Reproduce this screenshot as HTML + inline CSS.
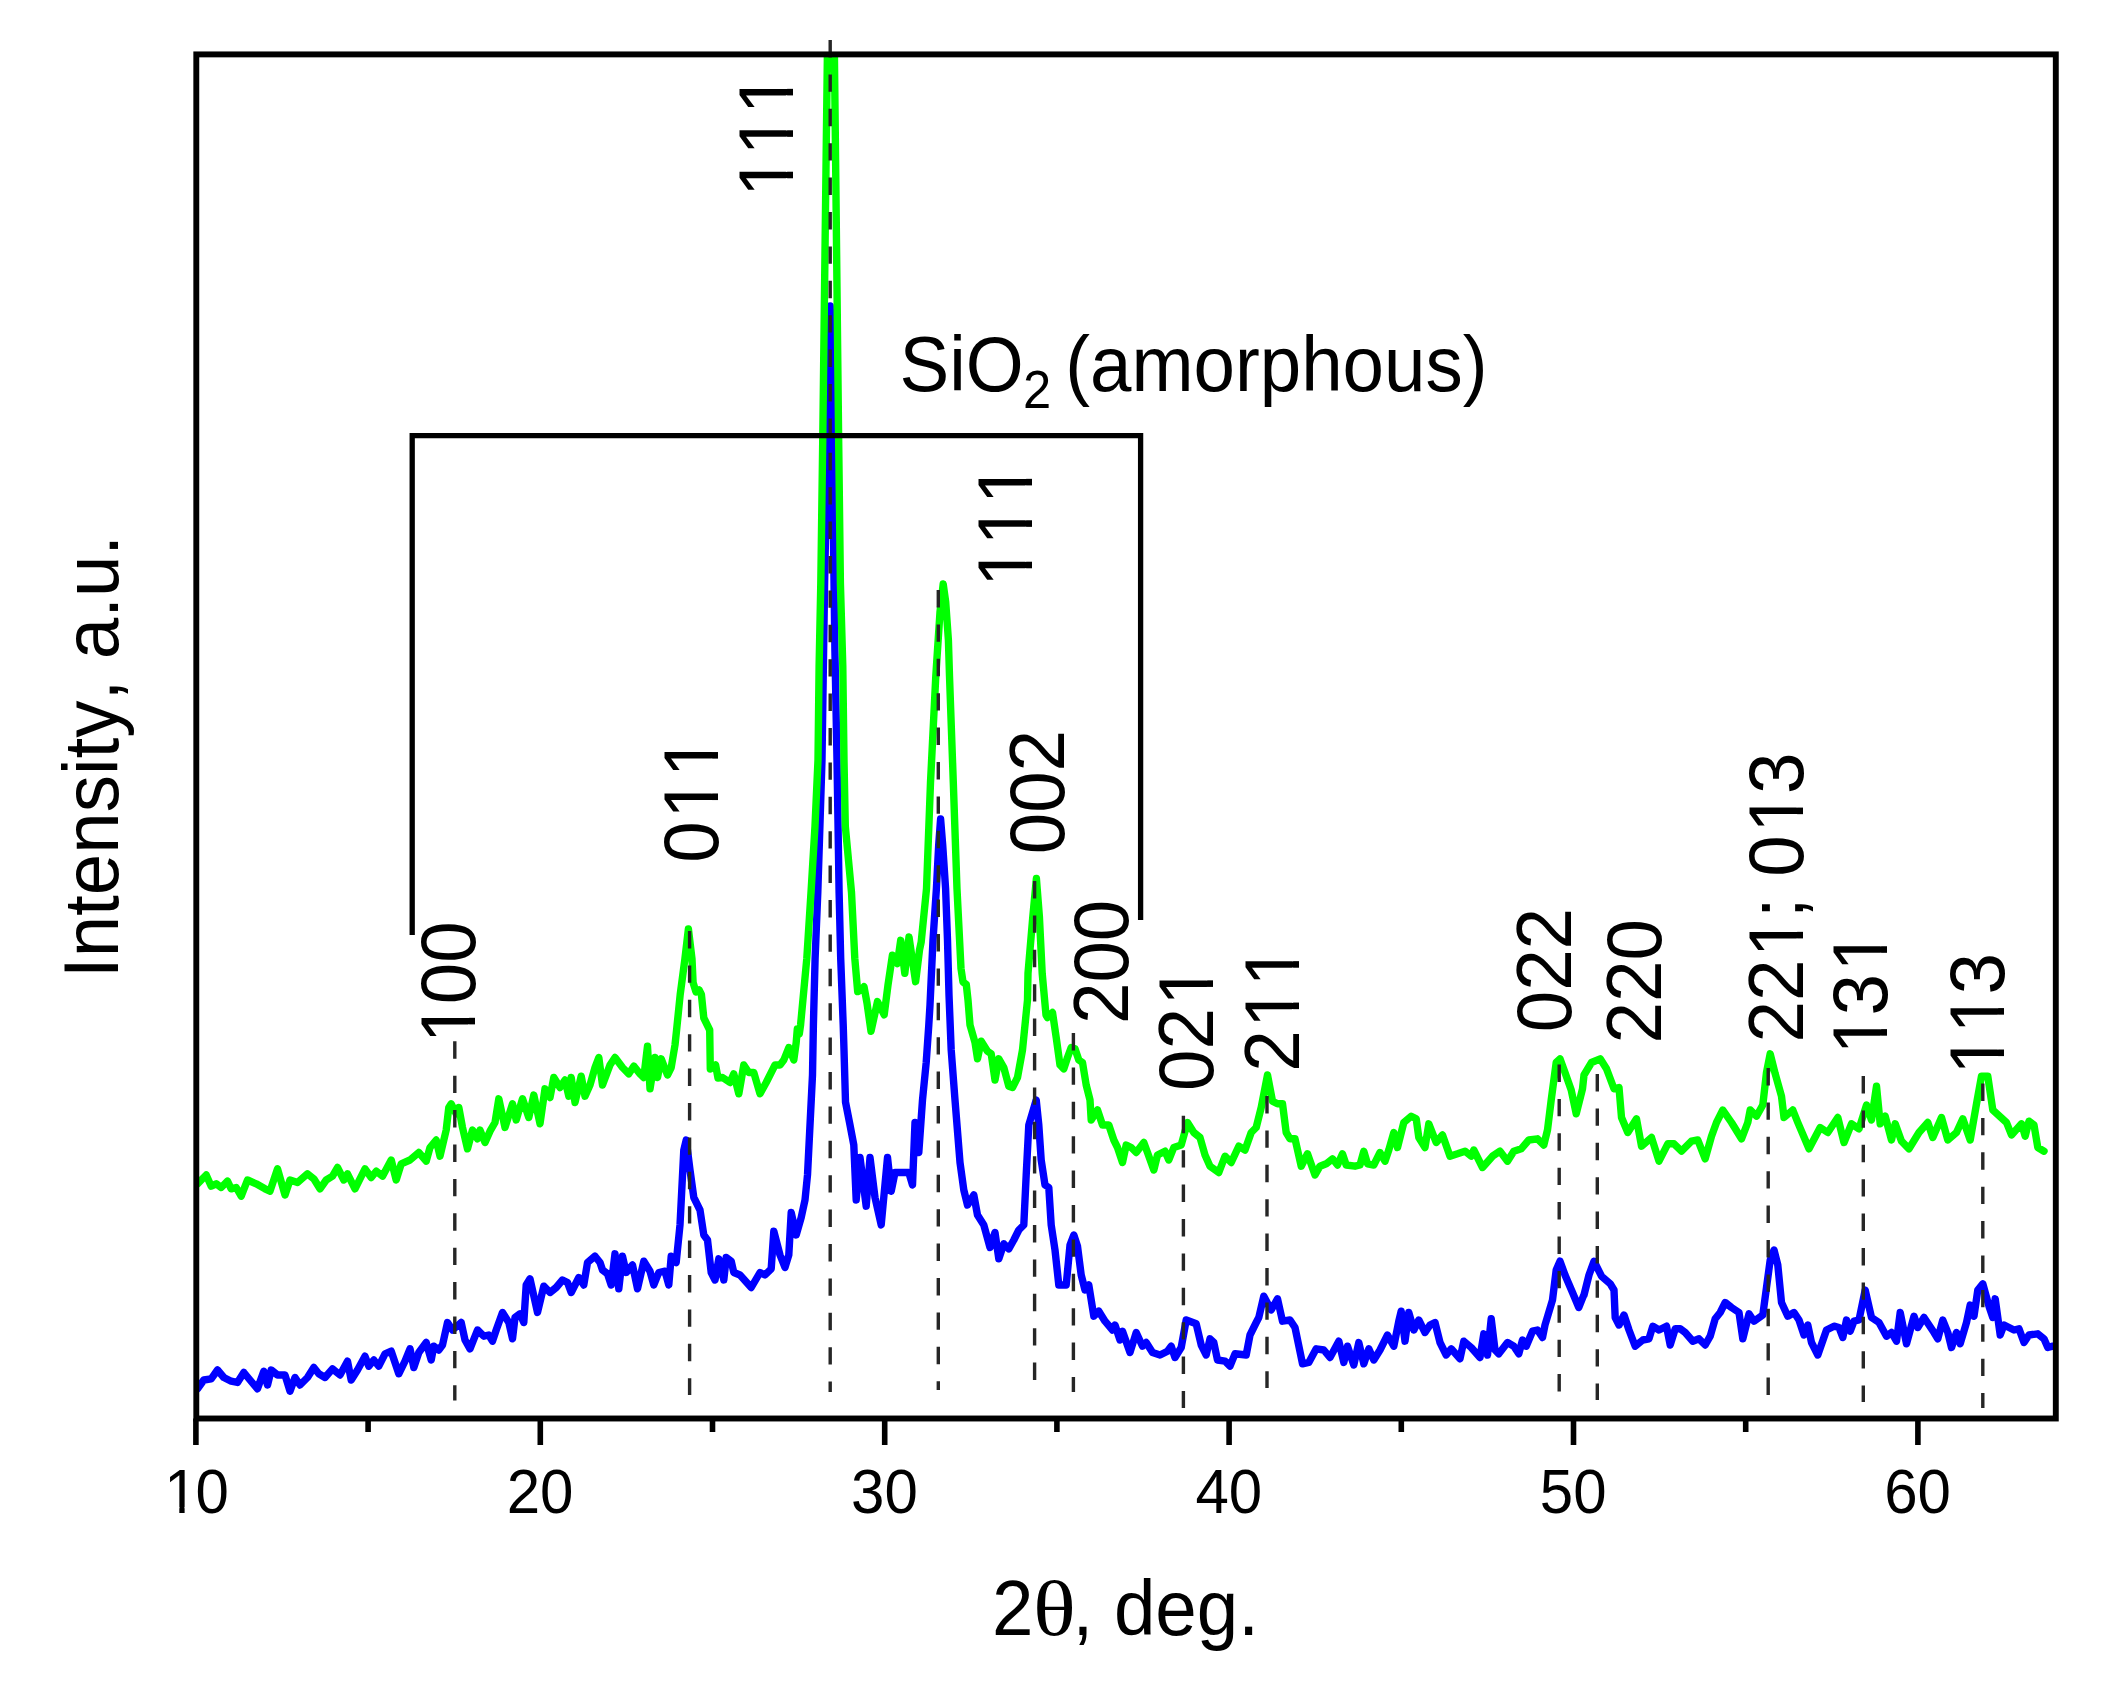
<!DOCTYPE html>
<html><head><meta charset="utf-8"><title>XRD</title>
<style>
html,body{margin:0;padding:0;background:#fff;}
body{width:2112px;height:1693px;overflow:hidden;}
svg{display:block;filter:blur(0.6px);}
text{font-family:"Liberation Sans", sans-serif;fill:#000;font-kerning:none;}
.pk{font-size:74.5px;}
.tk{font-size:60px;}
.ax{font-size:74.5px;}
</style></head><body>
<svg width="2112" height="1693" viewBox="0 0 2112 1693">
<rect width="2112" height="1693" fill="#fff"/>
<defs><clipPath id="c"><rect x="196.3" y="54.4" width="1859.5000000000002" height="1364.1"/></clipPath></defs>

<g transform="translate(162.23,1512.5) scale(1,1.05)"><text class="tk" dx="1.99 -1.99">10</text><rect x="4.92" y="-5.28" width="12.16" height="6.28" fill="#fff"/><rect x="22.38" y="-5.28" width="11.69" height="6.28" fill="#fff"/></g>
<g transform="translate(506.63,1512.5) scale(1,1.05)"><text class="tk">20</text></g>
<g transform="translate(851.03,1512.5) scale(1,1.05)"><text class="tk">30</text></g>
<g transform="translate(1195.43,1512.5) scale(1,1.05)"><text class="tk">40</text></g>
<g transform="translate(1539.83,1512.5) scale(1,1.05)"><text class="tk">50</text></g>
<g transform="translate(1884.23,1512.5) scale(1,1.05)"><text class="tk">60</text></g>
<g transform="translate(992,1634.5) scale(1,1.05)"><text class="ax">2<tspan style="font-family:'Liberation Serif',serif" dx="-0.4" textLength="42.8" lengthAdjust="spacingAndGlyphs">θ</tspan><tspan dx="-3.3">, deg.</tspan></text></g>
<g transform="translate(118,978) rotate(-90) scale(1,1.05)"><text class="ax">Intensity, a.u.</text></g>
<g transform="translate(899.5,390.5) scale(1,1.05)"><text class="ax">SiO<tspan font-size="50.7" x="123.5" y="17">2 </tspan><tspan x="165.7" y="0">(amorphous)</tspan></text></g>
<g transform="translate(792.6,199.5) rotate(-90) scale(1,1.05)"><text class="pk" dx="2.47 0.00 0.00">111</text><rect x="6.11" y="-6.37" width="15.10" height="7.37" fill="#fff"/><rect x="27.79" y="-6.37" width="14.51" height="7.37" fill="#fff"/><rect x="47.54" y="-6.37" width="15.10" height="7.37" fill="#fff"/><rect x="69.23" y="-6.37" width="14.51" height="7.37" fill="#fff"/><rect x="88.98" y="-6.37" width="15.10" height="7.37" fill="#fff"/><rect x="110.66" y="-6.37" width="14.51" height="7.37" fill="#fff"/></g>
<g transform="translate(1032.1,589.5) rotate(-90) scale(1,1.05)"><text class="pk" dx="2.47 0.00 0.00">111</text><rect x="6.11" y="-6.37" width="15.10" height="7.37" fill="#fff"/><rect x="27.79" y="-6.37" width="14.51" height="7.37" fill="#fff"/><rect x="47.54" y="-6.37" width="15.10" height="7.37" fill="#fff"/><rect x="69.23" y="-6.37" width="14.51" height="7.37" fill="#fff"/><rect x="88.98" y="-6.37" width="15.10" height="7.37" fill="#fff"/><rect x="110.66" y="-6.37" width="14.51" height="7.37" fill="#fff"/></g>
<g transform="translate(718.4,862.7) rotate(-90) scale(1,1.05)"><text class="pk" dx="0.00 2.47 0.00">011</text><rect x="47.54" y="-6.37" width="15.10" height="7.37" fill="#fff"/><rect x="69.23" y="-6.37" width="14.51" height="7.37" fill="#fff"/><rect x="88.98" y="-6.37" width="15.10" height="7.37" fill="#fff"/><rect x="110.66" y="-6.37" width="14.51" height="7.37" fill="#fff"/></g>
<g transform="translate(1063.7,854.3) rotate(-90) scale(1,1.05)"><text class="pk">002</text></g>
<g transform="translate(475,1045.6) rotate(-90) scale(1,1.05)"><text class="pk" dx="2.47 -2.47 0.00">100</text><rect x="6.11" y="-6.37" width="15.10" height="7.37" fill="#fff"/><rect x="27.79" y="-6.37" width="14.51" height="7.37" fill="#fff"/></g>
<g transform="translate(1128.1,1024) rotate(-90) scale(1,1.05)"><text class="pk">200</text></g>
<g transform="translate(1213.4,1091) rotate(-90) scale(1,1.05)"><text class="pk" dx="0.00 0.00 2.47">021</text><rect x="88.98" y="-6.37" width="15.10" height="7.37" fill="#fff"/><rect x="110.66" y="-6.37" width="14.51" height="7.37" fill="#fff"/></g>
<g transform="translate(1298.6,1071.8) rotate(-90) scale(1,1.05)"><text class="pk" dx="0.00 2.47 0.00">211</text><rect x="47.54" y="-6.37" width="15.10" height="7.37" fill="#fff"/><rect x="69.23" y="-6.37" width="14.51" height="7.37" fill="#fff"/><rect x="88.98" y="-6.37" width="15.10" height="7.37" fill="#fff"/><rect x="110.66" y="-6.37" width="14.51" height="7.37" fill="#fff"/></g>
<g transform="translate(1571.3,1032.3) rotate(-90) scale(1,1.05)"><text class="pk">022</text></g>
<g transform="translate(1661.3,1043.4) rotate(-90) scale(1,1.05)"><text class="pk">220</text></g>
<g transform="translate(1803.4,1042.5) rotate(-90) scale(1,1.05)"><text class="pk" dx="0.00 0.00 2.47 -2.47 0.00 0.00 2.47 -2.47">221; 013</text><rect x="88.98" y="-6.37" width="15.10" height="7.37" fill="#fff"/><rect x="110.66" y="-6.37" width="14.51" height="7.37" fill="#fff"/><rect x="213.24" y="-6.37" width="15.10" height="7.37" fill="#fff"/><rect x="234.92" y="-6.37" width="14.51" height="7.37" fill="#fff"/></g>
<g transform="translate(1887.2,1056.9) rotate(-90) scale(1,1.05)"><text class="pk" dx="2.47 -2.47 2.47">131</text><rect x="6.11" y="-6.37" width="15.10" height="7.37" fill="#fff"/><rect x="27.79" y="-6.37" width="14.51" height="7.37" fill="#fff"/><rect x="88.98" y="-6.37" width="15.10" height="7.37" fill="#fff"/><rect x="110.66" y="-6.37" width="14.51" height="7.37" fill="#fff"/></g>
<g transform="translate(2004.4,1077.3) rotate(-90) scale(1,1.05)"><text class="pk" dx="2.47 0.00 -2.47">113</text><rect x="6.11" y="-6.37" width="15.10" height="7.37" fill="#fff"/><rect x="27.79" y="-6.37" width="14.51" height="7.37" fill="#fff"/><rect x="47.54" y="-6.37" width="15.10" height="7.37" fill="#fff"/><rect x="69.23" y="-6.37" width="14.51" height="7.37" fill="#fff"/></g>
<g clip-path="url(#c)" fill="none" stroke-linejoin="round" stroke-linecap="round" stroke-width="7.4">
<path d="M197.5,1388.8 L203.8,1380.0 L211.2,1378.8 L217.5,1370.0 L223.8,1377.5 L231.2,1381.2 L237.5,1382.5 L243.8,1372.5 L250.0,1380.0 L257.5,1388.8 L263.8,1371.2 L267.5,1385.0 L271.2,1370.0 L277.5,1375.0 L285.0,1375.0 L290.0,1391.2 L295.0,1377.5 L300.0,1385.0 L307.5,1377.5 L313.8,1367.5 L318.8,1373.8 L325.0,1377.5 L332.5,1368.8 L340.0,1375.0 L347.5,1361.2 L351.2,1380.0 L357.5,1370.0 L365.0,1356.2 L368.8,1366.2 L373.8,1360.0 L378.8,1366.2 L385.0,1353.8 L391.2,1351.2 L398.8,1373.8 L405.0,1361.2 L410.0,1348.8 L413.8,1367.5 L418.8,1352.5 L426.2,1342.5 L431.2,1360.0 L433.8,1346.2 L438.8,1350.0 L442.5,1345.0 L447.5,1322.5 L452.5,1330.0 L461.2,1322.5 L465.0,1340.0 L470.0,1348.8 L477.5,1330.0 L483.8,1336.2 L488.8,1335.0 L492.5,1341.2 L496.2,1330.0 L502.5,1312.5 L508.8,1322.5 L512.5,1338.8 L515.0,1317.5 L520.0,1313.8 L523.8,1322.5 L526.2,1285.0 L530.0,1278.8 L537.5,1312.5 L543.8,1286.2 L550.0,1292.5 L556.2,1287.5 L562.5,1280.0 L567.5,1282.5 L571.2,1292.5 L578.8,1277.5 L583.8,1285.0 L587.5,1262.5 L595.0,1256.2 L600.0,1262.5 L602.5,1270.0 L607.5,1273.8 L611.2,1285.0 L615.0,1253.8 L618.8,1288.8 L622.5,1256.2 L626.2,1272.5 L632.5,1265.0 L637.5,1288.8 L643.8,1261.2 L650.0,1271.2 L653.8,1285.0 L658.8,1272.5 L665.0,1271.2 L668.8,1285.0 L671.2,1256.2 L676.2,1262.5 L680.0,1225.0 L683.8,1150.0 L686.2,1140.0 L690.0,1170.0 L693.8,1197.5 L700.0,1210.0 L703.8,1235.0 L707.5,1240.0 L711.2,1272.5 L715.0,1280.0 L718.8,1258.8 L723.8,1280.0 L726.2,1257.5 L731.2,1261.2 L733.8,1272.5 L740.0,1275.0 L751.2,1287.5 L760.0,1272.5 L765.0,1275.0 L771.2,1268.8 L773.8,1231.2 L780.0,1255.0 L785.0,1267.5 L788.8,1255.0 L791.2,1212.5 L796.2,1235.0 L801.2,1217.5 L805.0,1200.0 L807.5,1175.0 L810.0,1125.0 L812.5,1075.0 L813.4,1024.7 L815.1,958.5 L817.8,892.4 L822.0,760.0 L824.6,583.0 L827.5,435.0 L829.7,330.0 L830.2,306.0 L830.8,330.0 L832.1,435.0 L834.9,650.0 L837.0,760.0 L839.1,892.4 L840.7,958.5 L843.2,1024.7 L844.0,1050.0 L845.5,1102.0 L850.0,1125.0 L853.8,1145.0 L856.2,1200.0 L860.0,1157.5 L866.2,1206.2 L870.0,1157.5 L875.0,1197.5 L881.2,1225.0 L887.5,1157.5 L891.2,1191.2 L895.0,1172.5 L908.8,1172.5 L912.5,1185.0 L915.0,1122.5 L918.8,1152.5 L922.5,1100.0 L926.2,1062.5 L928.8,1025.0 L930.0,1005.0 L933.0,940.0 L936.4,888.8 L938.7,845.0 L940.6,819.0 L942.7,845.0 L945.6,888.8 L947.5,940.0 L949.0,995.0 L951.2,1050.0 L955.0,1100.0 L960.0,1162.5 L963.8,1190.0 L967.5,1205.0 L973.8,1195.0 L977.5,1215.0 L983.8,1225.0 L990.0,1247.5 L995.0,1232.5 L998.8,1258.8 L1003.8,1243.8 L1008.8,1248.8 L1013.8,1240.0 L1018.8,1230.0 L1023.8,1225.0 L1026.2,1175.0 L1028.8,1125.0 L1036.2,1100.0 L1038.8,1125.0 L1041.2,1160.0 L1045.0,1185.0 L1048.8,1187.5 L1051.2,1225.0 L1055.0,1250.0 L1058.8,1285.0 L1066.2,1285.0 L1070.0,1245.0 L1073.8,1235.0 L1077.5,1246.2 L1081.2,1275.0 L1085.0,1290.0 L1088.8,1285.0 L1093.8,1316.2 L1098.8,1311.2 L1105.0,1321.2 L1112.5,1330.0 L1115.0,1325.0 L1120.0,1340.0 L1122.5,1331.2 L1130.0,1352.5 L1136.2,1332.5 L1142.5,1346.2 L1146.2,1342.5 L1152.5,1352.5 L1160.0,1355.0 L1167.5,1351.2 L1171.2,1346.2 L1175.0,1357.5 L1181.2,1347.5 L1186.2,1320.0 L1196.2,1323.8 L1201.2,1345.0 L1206.2,1355.0 L1210.0,1338.8 L1213.8,1342.5 L1217.5,1360.0 L1225.0,1361.2 L1230.0,1366.2 L1235.0,1353.8 L1246.2,1355.0 L1250.0,1335.0 L1256.2,1322.5 L1258.8,1317.5 L1263.8,1296.2 L1271.2,1310.0 L1277.5,1298.8 L1282.5,1321.2 L1290.0,1320.0 L1295.0,1327.5 L1302.5,1363.8 L1308.8,1362.5 L1316.2,1348.8 L1323.8,1350.0 L1330.0,1357.5 L1338.8,1341.2 L1343.8,1362.5 L1347.5,1346.2 L1353.8,1365.0 L1358.8,1342.5 L1363.8,1363.8 L1368.8,1348.8 L1373.8,1360.0 L1380.0,1350.0 L1387.5,1335.0 L1393.8,1346.2 L1398.8,1321.2 L1401.2,1311.2 L1405.0,1341.2 L1408.8,1312.5 L1413.8,1330.0 L1418.8,1320.0 L1425.0,1332.5 L1430.0,1325.0 L1435.0,1322.5 L1440.0,1342.5 L1446.2,1355.0 L1451.2,1348.8 L1460.0,1358.8 L1463.8,1341.2 L1471.2,1347.5 L1480.0,1357.5 L1483.8,1333.8 L1487.5,1355.0 L1491.2,1318.8 L1495.0,1350.0 L1498.8,1353.8 L1507.5,1342.5 L1513.8,1346.2 L1518.8,1353.8 L1522.5,1340.0 L1526.2,1346.2 L1532.5,1331.2 L1537.5,1330.0 L1542.5,1337.5 L1545.0,1325.0 L1552.5,1300.0 L1556.2,1270.0 L1560.0,1261.2 L1565.0,1275.0 L1572.5,1292.5 L1578.8,1307.5 L1583.8,1295.0 L1584.0,1295.0 L1589.0,1275.0 L1594.0,1261.2 L1601.5,1276.2 L1610.2,1283.8 L1614.0,1290.0 L1615.2,1317.5 L1619.0,1325.0 L1624.0,1315.0 L1629.0,1330.0 L1635.2,1346.2 L1642.8,1340.0 L1649.0,1338.8 L1652.8,1326.2 L1659.0,1330.0 L1666.5,1326.2 L1670.2,1345.0 L1675.2,1328.8 L1680.2,1328.8 L1685.2,1332.5 L1692.8,1341.2 L1699.0,1338.8 L1705.2,1345.0 L1710.2,1336.2 L1715.2,1318.8 L1720.2,1312.5 L1725.2,1302.5 L1731.5,1307.5 L1739.0,1312.5 L1742.8,1338.8 L1749.0,1313.8 L1754.0,1321.2 L1762.8,1315.0 L1766.5,1287.5 L1770.2,1260.0 L1774.0,1250.0 L1777.8,1265.0 L1781.5,1302.5 L1787.8,1316.2 L1794.0,1312.5 L1799.0,1320.0 L1804.0,1335.0 L1807.8,1325.0 L1811.5,1342.5 L1817.8,1355.0 L1826.5,1330.0 L1834.0,1326.2 L1839.0,1327.5 L1842.8,1337.5 L1846.5,1320.0 L1850.2,1331.2 L1854.0,1321.2 L1859.0,1320.0 L1865.2,1290.0 L1871.5,1317.5 L1879.0,1322.5 L1886.5,1336.2 L1891.5,1332.5 L1896.5,1341.2 L1900.2,1312.5 L1906.5,1343.8 L1914.0,1316.2 L1917.8,1327.5 L1924.0,1317.5 L1934.0,1332.5 L1937.8,1338.8 L1942.8,1320.0 L1947.8,1332.5 L1951.5,1347.5 L1956.5,1332.5 L1960.2,1343.8 L1966.5,1322.5 L1970.2,1305.0 L1974.0,1316.2 L1977.8,1290.0 L1982.8,1283.8 L1989.0,1306.2 L1992.8,1317.5 L1995.2,1298.8 L2000.2,1335.0 L2004.0,1325.0 L2014.0,1330.0 L2019.0,1328.8 L2024.0,1342.5 L2029.0,1335.0 L2037.8,1333.8 L2044.0,1338.8 L2047.8,1347.5 L2052.8,1346.2" stroke="#0000ff"/>
<path d="M197.5,1183.8 L206.2,1175.0 L211.2,1186.2 L216.2,1183.8 L221.2,1187.5 L227.5,1181.2 L231.2,1188.8 L236.2,1187.5 L241.2,1196.2 L247.5,1180.0 L256.2,1183.8 L265.0,1188.8 L270.0,1191.2 L277.5,1168.8 L285.0,1195.0 L290.0,1180.0 L297.5,1182.5 L307.5,1173.8 L313.8,1178.8 L320.0,1188.8 L326.2,1180.0 L332.5,1176.2 L337.5,1167.5 L343.8,1180.0 L347.5,1173.8 L355.0,1188.8 L365.0,1168.8 L371.2,1177.5 L376.2,1171.2 L382.5,1176.2 L391.2,1160.0 L396.2,1180.0 L401.2,1163.8 L410.0,1160.0 L418.8,1152.5 L426.2,1161.2 L430.0,1147.5 L436.2,1140.0 L440.0,1156.2 L446.2,1130.0 L448.8,1107.5 L451.2,1103.8 L456.2,1113.8 L458.8,1107.5 L462.5,1127.5 L467.5,1148.8 L472.5,1130.0 L477.5,1138.8 L480.0,1130.0 L485.0,1142.5 L490.0,1131.2 L495.0,1122.5 L498.8,1098.8 L505.0,1127.5 L512.5,1103.8 L516.2,1120.0 L522.5,1098.8 L528.8,1117.5 L533.8,1095.0 L540.0,1123.8 L545.0,1088.8 L550.0,1097.5 L553.8,1077.5 L560.0,1087.5 L565.0,1080.0 L568.8,1096.2 L571.2,1077.5 L575.0,1102.5 L581.2,1076.2 L585.0,1096.2 L590.0,1085.0 L595.0,1067.5 L598.8,1057.5 L602.5,1085.0 L610.0,1065.0 L615.0,1057.5 L622.5,1067.5 L628.8,1073.8 L633.8,1066.2 L640.0,1073.8 L643.8,1077.5 L647.5,1046.2 L650.0,1088.8 L655.0,1057.5 L657.5,1077.5 L661.2,1058.8 L667.5,1075.0 L671.2,1067.5 L675.0,1045.0 L676.6,1030.0 L680.2,994.5 L684.9,959.0 L688.4,929.0 L692.0,959.0 L693.1,982.7 L696.0,992.0 L699.0,989.8 L701.4,994.5 L703.8,1018.0 L709.7,1030.0 L710.3,1069.0 L715.6,1065.0 L718.0,1078.0 L722.5,1077.5 L730.0,1082.5 L733.8,1073.8 L738.8,1093.8 L743.8,1065.0 L748.8,1072.5 L753.8,1072.5 L760.0,1093.8 L766.2,1082.5 L775.0,1065.0 L780.0,1065.0 L783.8,1060.0 L788.8,1047.5 L793.8,1060.0 L796.2,1042.5 L797.3,1029.0 L799.3,1034.0 L800.6,1024.7 L806.8,958.5 L811.0,892.4 L815.0,826.0 L818.0,760.0 L819.1,666.0 L820.8,583.0 L822.8,435.0 L826.1,160.0 L827.4,54.0 L831.0,-243.0 L834.4,54.0 L835.6,160.0 L838.6,435.0 L840.4,583.0 L842.8,666.0 L844.0,760.0 L845.3,826.0 L851.5,892.4 L854.8,958.5 L857.7,991.6 L861.0,990.0 L864.0,986.7 L867.0,1003.0 L871.0,1031.3 L877.5,1001.6 L884.2,1014.8 L888.0,985.0 L892.4,955.2 L897.4,963.5 L900.7,940.3 L904.8,973.4 L909.0,937.0 L915.6,981.7 L919.5,950.0 L921.2,942.0 L926.5,888.8 L930.5,782.5 L935.8,676.0 L940.0,612.0 L943.2,584.0 L945.7,602.0 L948.4,640.0 L949.5,676.0 L953.3,782.5 L957.0,888.8 L961.0,968.5 L963.0,982.0 L966.3,984.5 L968.0,1000.0 L970.0,1025.0 L975.0,1042.5 L977.5,1058.8 L981.2,1041.2 L987.5,1051.2 L991.2,1053.8 L995.0,1080.0 L998.8,1058.8 L1003.8,1067.5 L1008.8,1086.2 L1012.5,1087.5 L1017.5,1077.5 L1022.5,1050.0 L1027.5,1000.0 L1028.0,973.4 L1032.8,916.7 L1036.4,878.5 L1039.4,916.7 L1042.2,973.4 L1046.0,1015.0 L1047.5,1017.5 L1052.5,1012.5 L1056.2,1037.5 L1060.0,1065.0 L1063.8,1068.8 L1067.5,1057.5 L1071.2,1047.5 L1075.0,1048.8 L1078.8,1060.0 L1082.5,1062.5 L1086.2,1085.0 L1090.0,1100.0 L1091.2,1120.0 L1097.5,1110.0 L1102.5,1125.0 L1108.8,1125.0 L1113.8,1140.0 L1117.5,1147.5 L1122.5,1162.5 L1126.2,1145.0 L1131.2,1147.5 L1136.2,1152.5 L1143.8,1142.5 L1147.5,1152.5 L1153.8,1170.0 L1157.5,1155.0 L1165.0,1151.2 L1168.8,1160.0 L1173.8,1147.5 L1181.2,1145.0 L1187.5,1122.5 L1193.8,1132.5 L1200.0,1137.5 L1205.0,1155.0 L1210.0,1166.2 L1218.8,1172.5 L1225.0,1156.2 L1231.2,1162.5 L1238.8,1146.2 L1245.0,1150.0 L1251.2,1132.5 L1256.2,1127.5 L1261.2,1107.5 L1267.5,1075.0 L1272.5,1101.2 L1277.5,1103.8 L1282.5,1103.8 L1286.2,1132.5 L1290.0,1138.8 L1295.0,1138.8 L1301.2,1166.2 L1307.5,1153.8 L1315.0,1175.0 L1320.0,1166.2 L1326.2,1163.8 L1332.5,1158.8 L1337.5,1165.0 L1342.5,1153.8 L1346.2,1165.0 L1355.0,1166.2 L1360.0,1165.0 L1363.8,1151.2 L1367.5,1163.8 L1373.8,1165.0 L1380.0,1152.5 L1385.0,1161.2 L1388.8,1150.0 L1393.8,1132.5 L1397.5,1147.5 L1403.8,1122.5 L1411.2,1116.2 L1416.2,1118.8 L1418.8,1137.5 L1425.0,1147.5 L1428.8,1123.8 L1436.2,1142.5 L1442.5,1135.0 L1450.0,1156.2 L1457.5,1153.8 L1465.0,1151.2 L1471.2,1156.2 L1473.8,1150.0 L1482.5,1167.5 L1492.5,1156.2 L1500.0,1151.2 L1507.5,1161.2 L1513.8,1151.2 L1521.2,1148.8 L1528.8,1140.0 L1537.5,1138.8 L1543.8,1145.0 L1547.5,1130.0 L1551.2,1100.0 L1556.2,1062.5 L1560.0,1058.8 L1565.0,1072.5 L1571.2,1090.0 L1576.2,1113.8 L1582.5,1088.8 L1584.0,1075.0 L1591.5,1062.5 L1600.2,1058.8 L1606.5,1068.8 L1614.0,1088.8 L1619.0,1087.5 L1621.5,1117.5 L1627.8,1132.5 L1636.5,1118.8 L1641.5,1146.2 L1651.5,1137.5 L1659.0,1161.2 L1667.8,1143.8 L1674.0,1143.8 L1681.5,1151.2 L1691.5,1141.2 L1697.8,1140.0 L1705.2,1158.8 L1711.5,1136.2 L1716.5,1122.5 L1722.8,1110.0 L1731.5,1122.5 L1741.5,1138.8 L1747.8,1122.5 L1750.2,1110.0 L1756.5,1116.2 L1762.8,1105.0 L1766.5,1072.5 L1770.2,1053.8 L1775.2,1073.8 L1781.5,1096.2 L1784.0,1117.5 L1792.8,1110.0 L1797.8,1122.5 L1809.0,1148.8 L1820.2,1127.5 L1827.8,1132.5 L1837.8,1117.5 L1844.0,1142.5 L1851.5,1123.8 L1859.0,1128.8 L1866.5,1105.0 L1871.5,1120.0 L1876.5,1086.2 L1880.2,1123.8 L1885.2,1116.2 L1891.5,1140.0 L1895.2,1123.8 L1901.5,1141.2 L1909.0,1148.8 L1919.0,1132.5 L1927.8,1122.5 L1932.8,1137.5 L1941.5,1117.5 L1947.8,1140.0 L1956.5,1132.5 L1962.8,1118.8 L1970.2,1140.0 L1976.5,1103.8 L1981.5,1076.2 L1987.8,1076.2 L1992.8,1110.0 L2006.5,1122.5 L2011.5,1135.0 L2021.5,1123.8 L2025.2,1136.2 L2029.0,1121.2 L2034.0,1125.0 L2037.8,1147.5 L2044.0,1151.2" stroke="#00ff00"/>
</g>
<g stroke="#262626" stroke-width="3.4" stroke-dasharray="17.4 17" fill="none">
<line x1="454.8" y1="1041.3" x2="454.8" y2="1400.5"/>
<line x1="689.6" y1="931" x2="689.6" y2="1395"/>
<line x1="830.2" y1="40" x2="830.2" y2="1392"/>
<line x1="938.3" y1="590" x2="938.3" y2="1390"/>
<line x1="1034.6" y1="881" x2="1034.6" y2="1388"/>
<line x1="1073.4" y1="1033" x2="1073.4" y2="1392"/>
<line x1="1183.4" y1="1115.8" x2="1183.4" y2="1408"/>
<line x1="1267" y1="1096" x2="1267" y2="1388"/>
<line x1="1559.2" y1="1064.5" x2="1559.2" y2="1392"/>
<line x1="1597.3" y1="1074" x2="1597.3" y2="1400"/>
<line x1="1768.2" y1="1068" x2="1768.2" y2="1395"/>
<line x1="1863.3" y1="1076" x2="1863.3" y2="1402"/>
<line x1="1982.8" y1="1083.5" x2="1982.8" y2="1408"/>
</g>
<path d="M412.2,935 L412.2,435.6 L1140.6,435.6 L1140.6,920" fill="none" stroke="#000" stroke-width="5.3" stroke-linejoin="miter"/>
<rect x="196.3" y="54.4" width="1859.5000000000002" height="1364.1" fill="none" stroke="#000" stroke-width="5.9"/>
<g stroke="#000" stroke-width="5.6">
<line x1="195.9" y1="1418.5" x2="195.9" y2="1445"/>
<line x1="368.1" y1="1418.5" x2="368.1" y2="1432"/>
<line x1="540.3" y1="1418.5" x2="540.3" y2="1445"/>
<line x1="712.5" y1="1418.5" x2="712.5" y2="1432"/>
<line x1="884.7" y1="1418.5" x2="884.7" y2="1445"/>
<line x1="1056.9" y1="1418.5" x2="1056.9" y2="1432"/>
<line x1="1229.1" y1="1418.5" x2="1229.1" y2="1445"/>
<line x1="1401.3" y1="1418.5" x2="1401.3" y2="1432"/>
<line x1="1573.5" y1="1418.5" x2="1573.5" y2="1445"/>
<line x1="1745.7" y1="1418.5" x2="1745.7" y2="1432"/>
<line x1="1917.9" y1="1418.5" x2="1917.9" y2="1445"/>
</g>
</svg></body></html>
